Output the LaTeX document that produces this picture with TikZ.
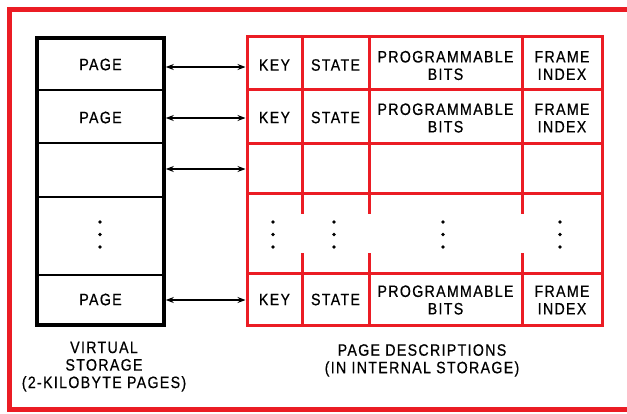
\documentclass[tikz,border=0pt]{standalone}
\usepackage{fontspec}
\setmainfont{Liberation Sans}
\newfontfamily\dfont[FakeStretch=0.86,LetterSpace=8,FakeBold=0.6]{Liberation Sans}
\usetikzlibrary{arrows.meta,calc}
\definecolor{fr}{RGB}{235,28,36}
\begin{document}
\begin{tikzpicture}[x=1pt,y=-1pt,
  cell/.style={draw=fr, line width=3pt, inner sep=0pt, outer sep=0pt},
  blank/.style={inner sep=0pt, outer sep=0pt},
  pagebox/.style={draw=black, line width=2pt, inner sep=0pt, outer sep=0pt, minimum width=127pt},
  txt/.style={inner sep=0pt, font=\dfont\fontsize{16.5}{17.5}\selectfont, align=center},
  arr/.style={line width=1.1pt, {Stealth[length=8pt,width=6pt]}-{Stealth[length=8pt,width=6pt]}, shorten <=1.8pt, shorten >=1.5pt},
  dotmark/.style={fill=black}]
\useasboundingbox (0,0) rectangle (627,413);
% outer red frame (right side cut off)
\draw[fr, line width=4.5pt] (630,9.5) -- (9.5,9.5) -- (9.5,409.5) -- (630,409.5);

% page description table
\foreach \r/\t/\b in {1/36/89,2/89/143,3/143/193,5/273/325} {
  \foreach \c/\l/\rr in {k/247/302, s/302/369, p/369/522, f/522/602} {
    \node[cell, minimum width={\rr-\l}, minimum height={\b-\t}] (\c\r) at ({(\l+\rr)/2},{(\t+\b)/2}) {};
  }
}
\foreach \c/\l/\rr in {k/247/302, s/302/369, p/369/522, f/522/602} {
  \node[blank, minimum width={\rr-\l}, minimum height=80] (\c4) at ({(\l+\rr)/2},233) {};
}
\draw[fr, line width=3pt] (k4.north west) -- (k4.south west);
\draw[fr, line width=3pt] (f4.north east) -- (f4.south east);
\foreach \c in {s,p,f} {
  \draw[fr, line width=3pt] (\c4.north west) -- ++(0,21);
  \draw[fr, line width=3pt] (\c4.south west) -- ++(0,-20);
}

% virtual storage column
\node[pagebox, minimum height=52] (v1) at (100.5,64) {};
\node[pagebox, minimum height=53] (v2) at (100.5,116.5) {};
\node[pagebox, minimum height=54] (v3) at (100.5,170) {};
\node[pagebox, minimum height=78] (v4) at (100.5,236) {};
\node[pagebox, minimum height=50] (v5) at (100.5,300) {};
\draw[line width=3.5pt] (v1.north west) rectangle (v5.south east);

% texts
\node[txt] (t1) at (v1 |- 0,64.5) {PAGE};
\node[txt] (t2) at (v2 |- 0,117.5) {PAGE};
\node[txt] (t5) at (v5 |- 0,299.5) {PAGE};
\foreach \r/\y in {1/65,2/117.5,5/299.5} {
  \node[txt] (kt\r) at (k\r |- 0,\y) {KEY};
  \node[txt] (st\r) at (s\r |- 0,\y) {STATE};
  \node[txt] (pt\r) at (p\r |- 0,\y+0.5) {PROGRAMMABLE\\BITS};
  \node[txt] (ft\r) at (f\r |- 0,\y+0.5) {FRAME\\INDEX};
}

% dots
\foreach \x in {100,273,334,443,560} {
  \foreach \y in {222,234.5,247} {
    \fill[dotmark] (\x,\y) circle (1.8);
  }
}

% arrows
\draw[arr] (v1.east |- 0,67) -- (k1.west |- 0,67);
\draw[arr] (v2.east |- 0,118) -- (k2.west |- 0,118);
\draw[arr] (v3.east |- 0,169) -- (k3.west |- 0,169);
\draw[arr] (v5.east |- 0,300) -- (k5.west |- 0,300);

% captions
\node[txt, anchor=north] (vl) at (104,341.5) {VIRTUAL\\STORAGE\\(2-KILOBYTE PAGES)};
\node[txt, anchor=north] (pl) at (422,344) {PAGE DESCRIPTIONS\\(IN INTERNAL STORAGE)};
\end{tikzpicture}
\end{document}
